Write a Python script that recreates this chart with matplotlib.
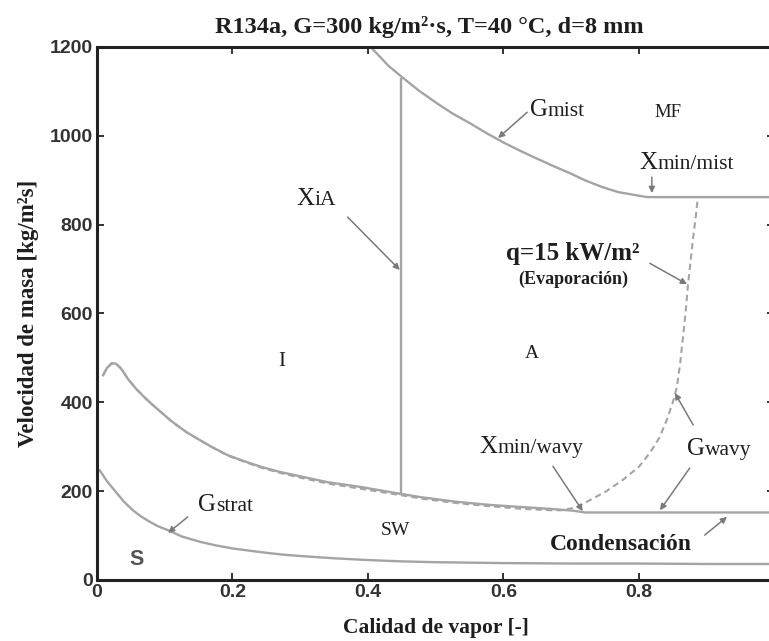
import numpy as np
import matplotlib.pyplot as plt

# Mapa de patrones de flujo, R134a
x_wavy = [0.009, 0.015, 0.022, 0.028, 0.035, 0.04, 0.046, 0.058, 0.071, 0.083, 0.096,
          0.108, 0.12, 0.132, 0.145, 0.17, 0.193, 0.22, 0.244, 0.268, 0.292, 0.341,
          0.391, 0.44, 0.48, 0.531, 0.58, 0.629, 0.67, 0.703, 0.72, 0.8, 0.9, 1.0]
g_wavy = [461, 478, 488, 487, 477, 466, 452, 430, 410, 393, 376,
          360, 346, 333, 321, 299, 281, 266, 254, 244, 236, 220,
          209, 196, 186, 176, 169, 164, 160, 156, 152, 152, 152, 152]

x_evap = [0.009, 0.015, 0.022, 0.028, 0.035, 0.04, 0.046, 0.058, 0.071, 0.083, 0.096,
          0.108, 0.12, 0.132, 0.145, 0.17, 0.193, 0.22, 0.244, 0.268, 0.292, 0.341,
          0.391, 0.44, 0.48, 0.531, 0.58, 0.629, 0.67, 0.688,
          0.71, 0.728, 0.75, 0.776, 0.8, 0.816, 0.83, 0.841, 0.85, 0.856, 0.861,
          0.865, 0.869, 0.872, 0.876, 0.88, 0.884, 0.887]
g_evap = [461, 478, 488, 487, 477, 466, 452, 430, 410, 393, 376,
          360, 346, 333, 321, 299, 280, 265, 252, 242, 233, 217,
          205, 193, 183, 173, 166, 160, 157, 157,
          165, 180, 198, 225, 255, 286, 320, 360, 400, 434, 490,
          547, 605, 659, 715, 772, 820, 862]

x_mist = [0.404, 0.43, 0.452, 0.475, 0.502, 0.525, 0.551, 0.575, 0.6, 0.625, 0.649,
          0.675, 0.698, 0.72, 0.747, 0.77, 0.797, 0.812, 1.0]
g_mist = [1200, 1158, 1130, 1102, 1073, 1050, 1028, 1006, 985, 966, 949,
          931, 916, 900, 884, 873, 866, 862, 862]

x_strat = [0.004, 0.015, 0.029, 0.04, 0.053, 0.065, 0.078, 0.09, 0.105, 0.125, 0.152,
           0.175, 0.2, 0.225, 0.251, 0.275, 0.3, 0.348, 0.398, 0.447, 0.5, 0.6,
           0.7, 0.8, 0.9, 1.0]
g_strat = [247, 222, 196, 176, 157, 143, 131, 121, 112, 98, 86,
           78, 71, 66, 61, 57, 54, 49, 45, 42, 40, 38,
           37, 37, 36, 36]

x_ia = 0.449
g_ia = [194, 1128]

serif = 'Liberation Serif'
sans = 'Liberation Sans'
gris = '#a4a4a4'
flecha = '#7a7a7a'
tinta = '#1e1e1e'

fig = plt.figure(figsize=(7.69, 6.41), dpi=100)
ax = fig.add_axes([0.1261, 0.0952, 0.881, 0.8315])

ax.plot(x_strat, g_strat, color=gris, lw=1.7)
ax.plot(x_wavy, g_wavy, color=gris, lw=1.7)
ax.plot(x_evap, g_evap, color=gris, lw=1.5, ls=(0, (3, 2)))
ax.plot(x_mist, g_mist, color=gris, lw=1.7)
ax.plot([x_ia, x_ia], g_ia, color=gris, lw=1.7)

ax.set_xlim(0, 1)
ax.set_ylim(0, 1200)
ax.set_xticks([0, 0.2, 0.4, 0.6, 0.8])
ax.set_xticklabels(['0', '0.2', '0.4', '0.6', '0.8'])
ax.set_yticks([0, 200, 400, 600, 800, 1000, 1200])
ax.tick_params(direction='in', length=5, width=1.3, top=True, right=True,
               labelsize=14, colors='#222', pad=3)
for lbl in ax.get_xticklabels() + ax.get_yticklabels():
    lbl.set_fontfamily(sans)
    lbl.set_fontweight('bold')
    lbl.set_color('#333')
for s in ax.spines.values():
    s.set_linewidth(2.2)
    s.set_color('#222')

ax.set_title('R134a, G=300 kg/m²·s, T=40 °C, d=8 mm', fontfamily=serif,
             fontweight='bold', fontsize=17.5, pad=10, x=0.49, color=tinta)
ax.set_xlabel('Calidad de vapor [-]', fontfamily=serif, fontweight='bold',
              fontsize=15.5, labelpad=12, color=tinta)
ax.set_ylabel('Velocidad de masa [kg/m²s]', fontfamily=serif,
              fontweight='bold', fontsize=16.5, labelpad=8, color=tinta)


def etiqueta(x, y, main, sub, size=18, sub_size=15.5):
    t = ax.text(x, y, main, fontfamily=serif, fontsize=size, ha='left',
                va='baseline', color=tinta)
    ax.annotate(sub, xy=(1.0, 0.0), xycoords=t, xytext=(0, 0),
                textcoords='offset points', fontfamily=serif,
                fontsize=sub_size, ha='left', va='bottom', color=tinta)


def flechita(x0, y0, x1, y1):
    ax.annotate('', xy=(x1, y1), xytext=(x0, y0),
                arrowprops=dict(arrowstyle='-|>', color=flecha, lw=1.1,
                                mutation_scale=9, shrinkA=0, shrinkB=0))


etiqueta(0.295, 844, 'X', 'iA')
flechita(0.370, 817, 0.447, 698)

etiqueta(0.639, 1044, 'G', 'mist')
flechita(0.635, 1053, 0.592, 995)

etiqueta(0.801, 925, 'X', 'min/mist')
flechita(0.819, 907, 0.819, 871)

etiqueta(0.565, 286, 'X', 'min/wavy')
flechita(0.673, 256, 0.717, 155)

etiqueta(0.871, 281, 'G', 'wavy')
flechita(0.875, 252, 0.831, 157)
flechita(0.88, 349, 0.853, 421)

etiqueta(0.149, 155, 'G', 'strat')
flechita(0.134, 142, 0.105, 106)

ax.text(0.703, 736, 'q=15 kW/m²', fontfamily=serif, fontweight='bold',
        fontsize=18, ha='center', va='center', color=tinta)
ax.text(0.703, 677, '(Evaporación)', fontfamily=serif, fontweight='bold',
        fontsize=13, ha='center', va='center', color=tinta)
flechita(0.816, 713, 0.871, 666)

ax.text(0.773, 79, 'Condensación', fontfamily=serif, fontweight='bold',
        fontsize=17, ha='center', va='center', color=tinta)
flechita(0.897, 101, 0.93, 142)

ax.text(0.843, 1053, 'MF', fontfamily=serif, fontsize=13.5, ha='center', va='center', color=tinta)
ax.text(0.273, 493, 'I', fontfamily=serif, fontsize=15, ha='center', va='center', color=tinta)
ax.text(0.642, 511, 'A', fontfamily=serif, fontsize=14, ha='center', va='center', color=tinta)
ax.text(0.441, 112, 'SW', fontfamily=serif, fontsize=14, ha='center', va='center', color=tinta)
ax.text(0.059, 45, 'S', fontfamily=sans, fontweight='bold', fontsize=15.5,
        ha='center', va='center', color='#555')

fig.savefig('out.png', dpi=100)
